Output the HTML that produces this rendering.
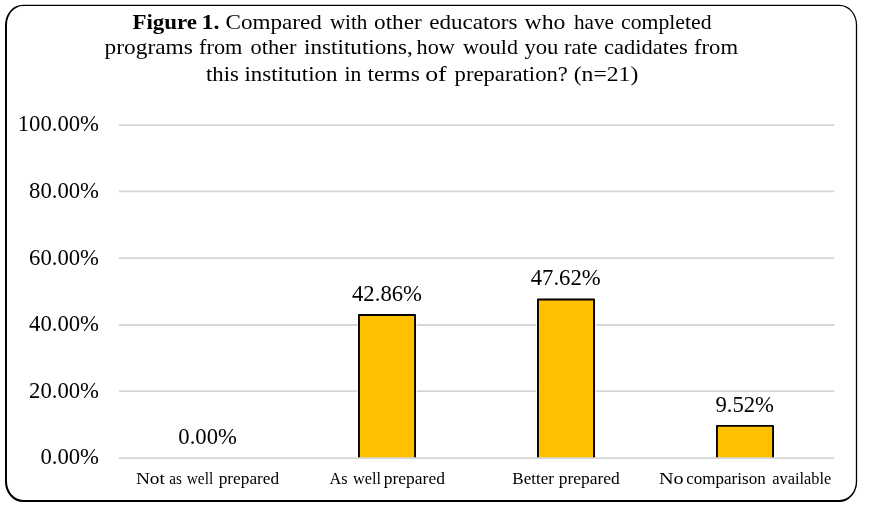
<!DOCTYPE html>
<html lang="en">
<head>
<meta charset="utf-8">
<title>Figure 1</title>
<style>
  html, body { margin: 0; padding: 0; background: #ffffff; }
  body { width: 870px; height: 510px; overflow: hidden; }
  svg { display: block; will-change: transform; }
  text { font-family: "Liberation Serif", "DejaVu Serif", serif; fill: #000; }
  .title { font-size: 21px; }
  .ylab { font-size: 22.7px; text-anchor: end; }
  .dlab { font-size: 22.7px; text-anchor: middle; }
  .xlab { font-size: 16.2px; }
  .grid { stroke: #d6d6d6; stroke-width: 1.8; }
  .bar { fill: #ffc000; stroke: #000; stroke-width: 1.9; stroke-linejoin: round; }
</style>
</head>
<body>
<svg width="870" height="510" viewBox="0 0 870 510">
  <rect x="0" y="0" width="870" height="510" fill="#ffffff"/>
  <!-- chart frame -->
  <path fill="#000" fill-rule="evenodd" d="M22.8,4.8 H839.35 A17.8,20.3 0 0 1 857.15,25.1 V481.7 A17.8,20.3 0 0 1 839.35,502 H22.8 A17.8,20.3 0 0 1 5,481.7 V25.1 A17.8,20.3 0 0 1 22.8,4.8 Z M23.2,6 H839.65 A16.2,18.7 0 0 1 855.85,24.7 V481.3 A16.2,18.7 0 0 1 839.65,500 H23.2 A16.2,18.7 0 0 1 7,481.3 V24.7 A16.2,18.7 0 0 1 23.2,6 Z"/>

  <!-- title -->
  <text class="title" y="28.7"><tspan x="132.4" font-weight="bold" textLength="64.6" lengthAdjust="spacingAndGlyphs">Figure</tspan> <tspan x="201.4" font-weight="bold" textLength="18.1" lengthAdjust="spacingAndGlyphs">1.</tspan> <tspan x="225.6" textLength="96.3" lengthAdjust="spacingAndGlyphs">Compared</tspan> <tspan x="329.9" textLength="37.5" lengthAdjust="spacingAndGlyphs">with</tspan> <tspan x="374.1" textLength="47.6" lengthAdjust="spacingAndGlyphs">other</tspan> <tspan x="429.2" textLength="88.3" lengthAdjust="spacingAndGlyphs">educators</tspan> <tspan x="524.5" textLength="40.9" lengthAdjust="spacingAndGlyphs">who</tspan> <tspan x="573.9" textLength="40.0" lengthAdjust="spacingAndGlyphs">have</tspan> <tspan x="621.0" textLength="90.5" lengthAdjust="spacingAndGlyphs">completed</tspan></text>
  <text class="title" y="54.4"><tspan x="104.6" textLength="88.3" lengthAdjust="spacingAndGlyphs">programs</tspan> <tspan x="199.1" textLength="43.3" lengthAdjust="spacingAndGlyphs">from</tspan> <tspan x="250.5" textLength="46.0" lengthAdjust="spacingAndGlyphs">other</tspan> <tspan x="304.1" textLength="108.6" lengthAdjust="spacingAndGlyphs">institutions,</tspan> <tspan x="416.6" textLength="38.3" lengthAdjust="spacingAndGlyphs">how</tspan> <tspan x="462.9" textLength="55.1" lengthAdjust="spacingAndGlyphs">would</tspan> <tspan x="524.4" textLength="34.0" lengthAdjust="spacingAndGlyphs">you</tspan> <tspan x="564.0" textLength="33.5" lengthAdjust="spacingAndGlyphs">rate</tspan> <tspan x="604.0" textLength="83.8" lengthAdjust="spacingAndGlyphs">cadidates</tspan> <tspan x="694.0" textLength="44.0" lengthAdjust="spacingAndGlyphs">from</tspan></text>
  <text class="title" y="80.7"><tspan x="206.0" textLength="32.9" lengthAdjust="spacingAndGlyphs">this</tspan> <tspan x="244.5" textLength="92.9" lengthAdjust="spacingAndGlyphs">institution</tspan> <tspan x="344.6" textLength="16.8" lengthAdjust="spacingAndGlyphs">in</tspan> <tspan x="367.5" textLength="52.3" lengthAdjust="spacingAndGlyphs">terms</tspan> <tspan x="425.2" textLength="21.5" lengthAdjust="spacingAndGlyphs">of</tspan> <tspan x="454.6" textLength="113.3" lengthAdjust="spacingAndGlyphs">preparation?</tspan> <tspan x="573.7" textLength="64.6" lengthAdjust="spacingAndGlyphs">(n=21)</tspan></text>

  <!-- gridlines -->
  <line class="grid" x1="118.9" x2="834.3" y1="125.1" y2="125.1"/>
  <line class="grid" x1="118.9" x2="834.3" y1="191.4" y2="191.4"/>
  <line class="grid" x1="118.9" x2="834.3" y1="258.1" y2="258.1"/>
  <line class="grid" x1="118.9" x2="834.3" y1="325" y2="325"/>
  <line class="grid" x1="118.9" x2="834.3" y1="391.2" y2="391.2"/>

  <!-- y axis labels -->
  <text class="ylab" x="99" y="131.3">100.00%</text>
  <text class="ylab" x="99" y="197.9">80.00%</text>
  <text class="ylab" x="99" y="264.5">60.00%</text>
  <text class="ylab" x="99" y="331.1">40.00%</text>
  <text class="ylab" x="99" y="397.7">20.00%</text>
  <text class="ylab" x="99" y="464.3">0.00%</text>

  <!-- bars -->
  <g fill="#ffffff">
    <rect x="357.3" y="313.3" width="59.4" height="146"/>
    <rect x="536.3" y="297.8" width="59.4" height="161.2"/>
    <rect x="715.3" y="424.3" width="59.4" height="34.7"/>
  </g>
  <path class="bar" d="M358.95,458 V314.95 H415.05 V458"/>
  <path class="bar" d="M537.95,458 V299.5 H594.05 V458"/>
  <path class="bar" d="M716.95,458 V425.9 H773.05 V458"/>
  <!-- axis line (drawn over bar bottoms) -->
  <line class="grid" x1="118.9" x2="834.3" y1="458.1" y2="458.1"/>

  <!-- data labels -->
  <text class="dlab" x="207.6" y="443.6">0.00%</text>
  <text class="dlab" x="387" y="301">42.86%</text>
  <text class="dlab" x="565.7" y="285">47.62%</text>
  <text class="dlab" x="744.7" y="412.2">9.52%</text>

  <!-- category labels -->
  <text class="xlab" y="483.6"><tspan x="135.9" textLength="29.0" lengthAdjust="spacingAndGlyphs">Not</tspan> <tspan x="169.2" textLength="12.6" lengthAdjust="spacingAndGlyphs">as</tspan> <tspan x="186.7" textLength="26.5" lengthAdjust="spacingAndGlyphs">well</tspan> <tspan x="218.7" textLength="60.5" lengthAdjust="spacingAndGlyphs">prepared</tspan></text>
  <text class="xlab" y="483.6"><tspan x="329.6" textLength="18.0" lengthAdjust="spacingAndGlyphs">As</tspan> <tspan x="353.1" textLength="27.9" lengthAdjust="spacingAndGlyphs">well</tspan> <tspan x="383.8" textLength="61.1" lengthAdjust="spacingAndGlyphs">prepared</tspan></text>
  <text class="xlab" y="483.6"><tspan x="512.3" textLength="41.6" lengthAdjust="spacingAndGlyphs">Better</tspan> <tspan x="558.7" textLength="61.1" lengthAdjust="spacingAndGlyphs">prepared</tspan></text>
  <text class="xlab" y="483.6"><tspan x="658.9" textLength="24.7" lengthAdjust="spacingAndGlyphs">No</tspan> <tspan x="686.2" textLength="79.5" lengthAdjust="spacingAndGlyphs">comparison</tspan> <tspan x="772.3" textLength="59.0" lengthAdjust="spacingAndGlyphs">available</tspan></text>
</svg>
</body>
</html>
